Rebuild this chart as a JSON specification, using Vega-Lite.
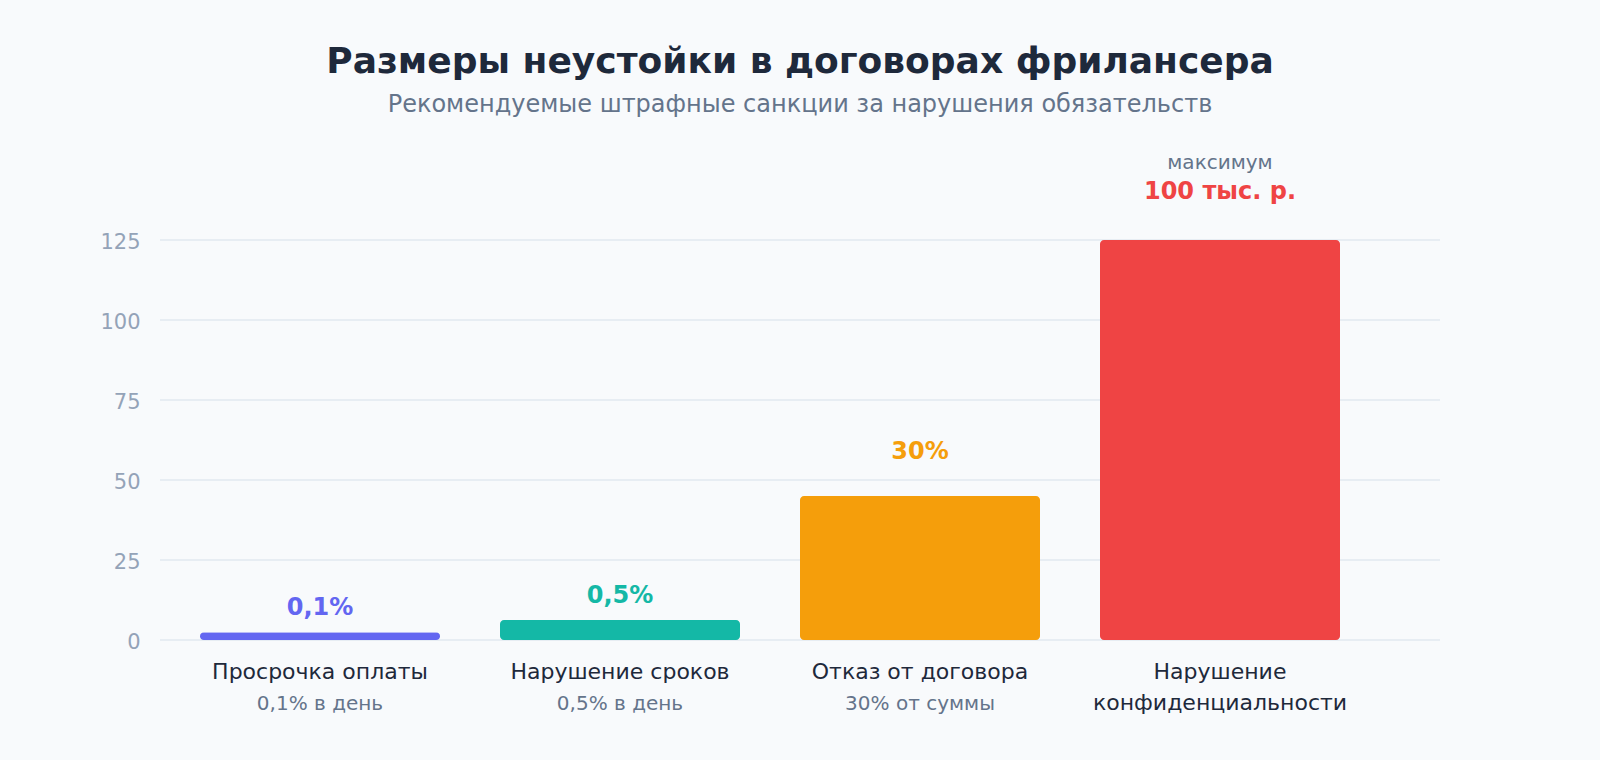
{
  "$schema": "https://vega.github.io/schema/vega-lite/v6.json",
  "width": 1280,
  "height": 400,
  "autosize": {"type": "none"},
  "padding": {"left": 160, "top": 240, "right": 160, "bottom": 120},
  "background": "#f8fafc",
  "title": {
    "text": "Размеры неустойки в договорах фрилансера",
    "subtitle": "Рекомендуемые штрафные санкции за нарушения обязательств",
    "anchor": "middle",
    "font": "DejaVu Sans",
    "fontSize": 36,
    "fontWeight": "bold",
    "color": "#1e293b",
    "subtitleFont": "DejaVu Sans",
    "subtitleFontSize": 24,
    "subtitleColor": "#64748b",
    "subtitlePadding": 12,
    "offset": 35
  },
  "config": {
    "view": {"stroke": null},
    "font": "DejaVu Sans"
  },
  "data": {
    "values": [
      {"category": "Просрочка оплаты", "detail": "0,1% в день", "label": "0,1%", "score": 2.4, "note": null},
      {"category": "Нарушение сроков", "detail": "0,5% в день", "label": "0,5%", "score": 6.25, "note": null},
      {"category": "Отказ от договора", "detail": "30% от суммы", "label": "30%", "score": 45, "note": null},
      {"category": "Нарушение конфиденциальности", "detail": "", "label": "100 тыс. р.", "score": 125, "note": "максимум"}
    ]
  },
  "layer": [
    {
      "data": {"values": [{"tick": 0}, {"tick": 25}, {"tick": 50}, {"tick": 75}, {"tick": 100}, {"tick": 125}]},
      "mark": {"type": "rule", "color": "#e2e8f0", "strokeWidth": 1.5},
      "encoding": {
        "y": {
          "field": "tick",
          "type": "quantitative",
          "scale": {"domain": [0, 125], "nice": false},
          "axis": {
            "title": null,
            "values": [0, 25, 50, 75, 100, 125],
            "grid": false,
            "domain": false,
            "ticks": false,
            "labelFontSize": 21,
            "labelColor": "#94a3b8",
            "labelPadding": 20,
            "labelOffset": 2
          }
        }
      }
    },
    {
      "encoding": {
        "x": {
          "field": "category",
          "type": "nominal",
          "sort": null,
          "scale": {"range": [40, 1180], "paddingInner": 0.2, "paddingOuter": 0},
          "axis": {
            "title": null,
            "domain": false,
            "ticks": false,
            "grid": false,
            "labelAngle": 0,
            "labelFontSize": 22,
            "labelColor": "#1e293b",
            "labelPadding": 21,
            "labelLimit": 500,
            "labelLineHeight": 31,
            "labelExpr": "length(datum.value) > 20 ? split(datum.value, ' ') : datum.value"
          }
        },
        "y": {
          "field": "score",
          "type": "quantitative",
          "scale": {"domain": [0, 125], "nice": false},
          "axis": {
            "title": null,
            "values": [0, 25, 50, 75, 100, 125],
            "grid": false,
            "domain": false,
            "ticks": false,
            "labelFontSize": 21,
            "labelColor": "#94a3b8",
            "labelPadding": 20,
            "labelOffset": 2
          }
        },
        "color": {
          "field": "category",
          "type": "nominal",
          "sort": null,
          "legend": null,
          "scale": {
            "domain": ["Просрочка оплаты", "Нарушение сроков", "Отказ от договора", "Нарушение конфиденциальности"],
            "range": ["#6366f1", "#14b8a6", "#f59e0b", "#ef4444"]
          }
        }
      },
      "layer": [
        {"mark": {"type": "bar", "cornerRadius": 4}},
        {
          "transform": [{"filter": "datum.score < 10"}],
          "mark": {"type": "text", "fontSize": 24, "fontWeight": "bold", "baseline": "alphabetic", "dy": -17},
          "encoding": {"text": {"field": "label"}}
        },
        {
          "transform": [{"filter": "datum.score >= 10 && datum.note == null"}],
          "mark": {"type": "text", "fontSize": 24, "fontWeight": "bold", "baseline": "alphabetic", "dy": -37},
          "encoding": {"text": {"field": "label"}}
        },
        {
          "transform": [{"filter": "datum.note != null"}],
          "mark": {"type": "text", "fontSize": 24, "fontWeight": "bold", "baseline": "alphabetic", "dy": -41},
          "encoding": {"text": {"field": "label"}}
        },
        {
          "transform": [{"filter": "datum.note != null"}],
          "mark": {"type": "text", "fontSize": 20, "baseline": "alphabetic", "dy": -71},
          "encoding": {"text": {"field": "note"}, "color": {"value": "#64748b"}}
        },
        {
          "mark": {"type": "text", "fontSize": 20, "baseline": "middle", "dy": 64},
          "encoding": {"y": {"datum": 0}, "text": {"field": "detail"}, "color": {"value": "#64748b"}}
        }
      ]
    }
  ]
}
